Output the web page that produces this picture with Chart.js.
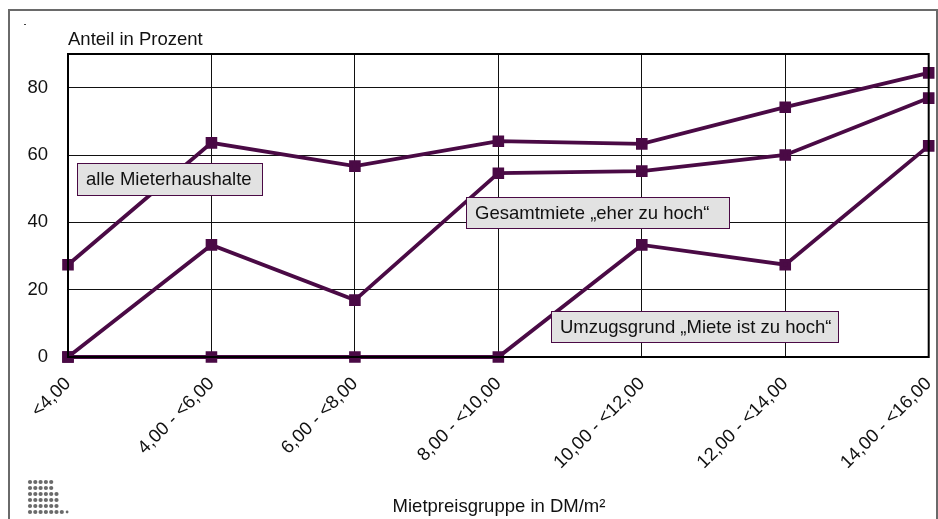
<!DOCTYPE html>
<html>
<head>
<meta charset="utf-8">
<script src="https://cdn.jsdelivr.net/npm/chart.js@4"></script>
<style>
  html, body { margin: 0; padding: 0; background: #fff; }
  #wrap { width: 938px; height: 519px; }
</style>
</head>
<body>
<div id="wrap"><canvas id="mietChart" width="938" height="519"></canvas></div>
<script>
/* ==============================
   DATA
============================== */
const categories = ['<4,00', '4,00 - <6,00', '6,00 - <8,00', '8,00 - <10,00', '10,00 - <12,00', '12,00 - <14,00', '14,00 - <16,00'];
const alleMieter = [27.4, 63.6, 56.7, 64.1, 63.3, 74.2, 84.4];
const gesamtmiete = [0, 33.3, 16.9, 54.6, 55.2, 60.0, 76.9];
const umzugsgrund = [0, 0, 0, 0, 33.3, 27.4, 62.7];
const seriesNames = ['alle Mieterhaushalte', 'Gesamtmiete „eher zu hoch“', 'Umzugsgrund „Miete ist zu hoch“'];

const LINE = '#4a0a45';
const FONT = '"Liberation Sans", Arial, Helvetica, sans-serif';

/* ==============================
   DECORATION PLUGIN
============================== */
const decor = {
    id: 'decor',
    beforeDraw(chart) {
        const c = chart.ctx;
        c.save();
        c.fillStyle = '#fff';
        c.fillRect(0, 0, chart.width, chart.height);
        // outer frame
        c.strokeStyle = '#6a6a6a';
        c.lineWidth = 2;
        c.strokeRect(9, 10, 928, 530);
        // tiny dash
        c.fillStyle = '#444';
        c.fillRect(24, 24, 2, 1);
        // dot logo
        c.fillStyle = '#6a6a6a';
        const rows = [5, 5, 6, 6, 6, 7];
        rows.forEach((n, r) => {
            for (let i = 0; i < n; i++) {
                c.beginPath();
                c.arc(30 + i * 5.3, 482 + r * 6, 2.1, 0, Math.PI * 2);
                c.fill();
            }
        });
        c.beginPath();
        c.arc(30 + 7 * 5.3, 512, 1.4, 0, Math.PI * 2);
        c.fill();
        c.restore();
    },
    afterDatasetsDraw(chart) {
        const c = chart.ctx;
        const a = chart.chartArea;
        c.save();
        // plot frame
        c.strokeStyle = '#000';
        c.lineWidth = 2;
        c.strokeRect(a.left, a.top, a.right - a.left, a.bottom - a.top);
        // axis titles
        c.fillStyle = '#111';
        c.font = '18.5px ' + FONT;
        c.textBaseline = 'middle';
        c.textAlign = 'left';
        c.fillText('Anteil in Prozent', 68, 40);
        c.textAlign = 'center';
        c.fillText('Mietpreisgruppe in DM/m²', 499, 507);
        // series label boxes
        const boxes = [
            { text: seriesNames[0], x: 77, y: 163, w: 185, h: 32 },
            { text: seriesNames[1], x: 466, y: 197, w: 263, h: 31 },
            { text: seriesNames[2], x: 551, y: 311, w: 287, h: 31 }
        ];
        c.textAlign = 'left';
        boxes.forEach(b => {
            c.fillStyle = '#e2e2e2';
            c.fillRect(b.x, b.y, b.w, b.h);
            c.strokeStyle = LINE;
            c.lineWidth = 1;
            c.strokeRect(b.x + 0.5, b.y + 0.5, b.w, b.h);
            c.fillStyle = '#111';
            c.fillText(b.text, b.x + 9, b.y + b.h / 2 + 1);
        });
        c.restore();
    }
};

function makeSet(label, data) {
    return {
        label: label,
        data: data,
        borderColor: LINE,
        backgroundColor: LINE,
        borderWidth: 3.8,
        pointStyle: 'rect',
        pointRadius: 5.5,
        pointHoverRadius: 5.5,
        tension: 0,
        clip: false
    };
}

new Chart(document.getElementById('mietChart').getContext('2d'), {
    type: 'line',
    data: {
        labels: categories,
        datasets: [
            makeSet(seriesNames[0], alleMieter),
            makeSet(seriesNames[1], gesamtmiete),
            makeSet(seriesNames[2], umzugsgrund)
        ]
    },
    options: {
        responsive: false,
        animation: false,
        layout: { padding: { left: 0, top: 54, right: 9, bottom: 0 } },
        plugins: {
            legend: { display: false },
            tooltip: { enabled: false }
        },
        scales: {
            x: {
                offset: false,
                grid: { color: '#111', lineWidth: 1, drawTicks: false },
                border: { display: false },
                ticks: {
                    color: '#111',
                    font: { family: FONT, size: 18.5 },
                    maxRotation: 45,
                    minRotation: 45,
                    padding: 16,
                    autoSkip: false
                },
                afterFit(scale) {
                    scale.height = 162;
                    scale.paddingRight = 0;
                    scale.paddingLeft = 0;
                }
            },
            y: {
                min: 0,
                max: 90,
                grid: { color: '#111', lineWidth: 1, drawTicks: false },
                border: { display: false },
                ticks: {
                    stepSize: 20,
                    color: '#111',
                    font: { family: FONT, size: 18.5 },
                    padding: 20,
                    callback: v => (v % 20 === 0 ? v : '')
                },
                afterFit(scale) {
                    scale.width = 68;
                    scale.paddingTop = 0;
                    scale.paddingBottom = 0;
                }
            }
        }
    },
    plugins: [decor]
});
</script>
</body>
</html>
